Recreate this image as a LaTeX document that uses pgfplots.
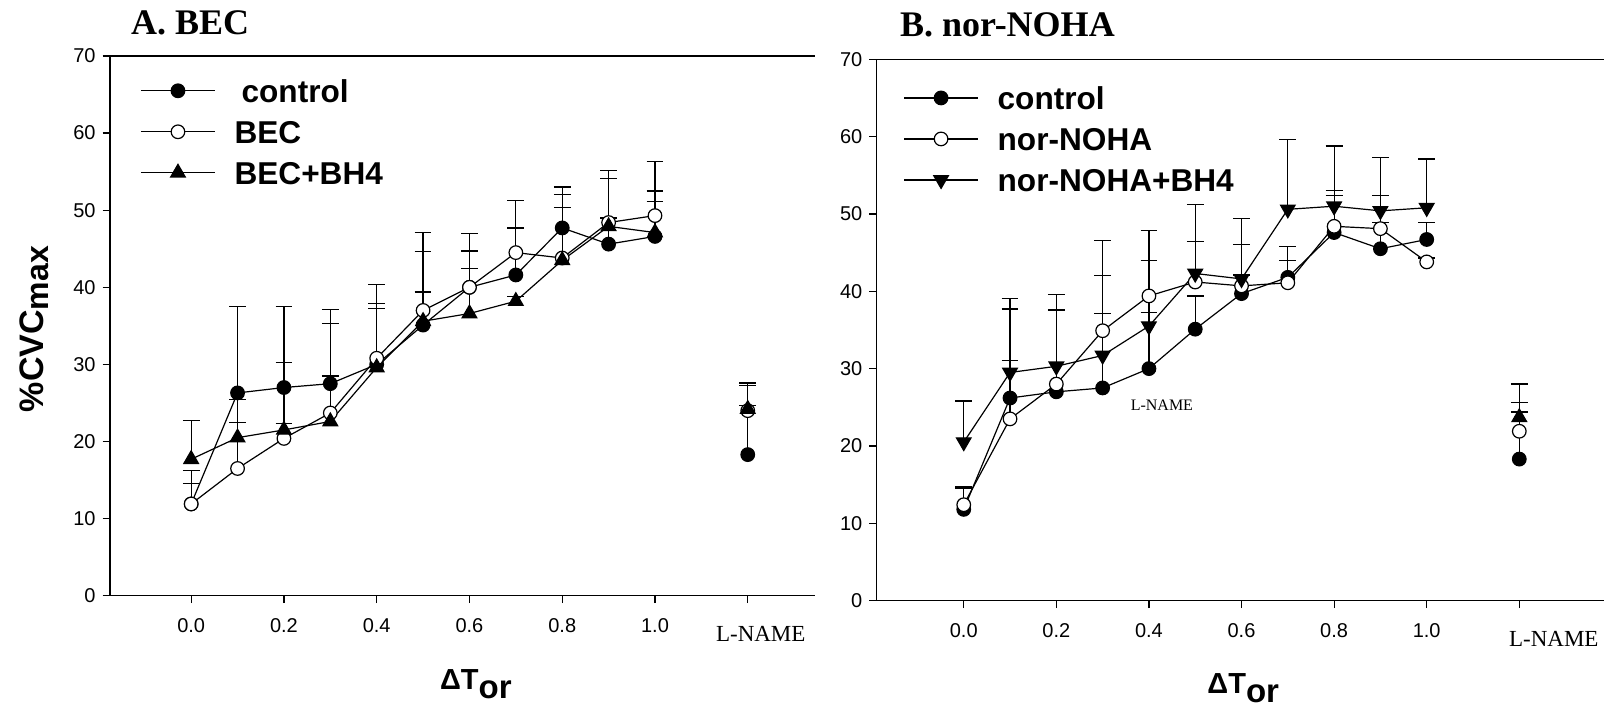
\documentclass[border=0pt]{standalone}
\usepackage{pgfplots}
\pgfplotsset{compat=1.18}
\usepackage{pgfplotstable}
\usepackage{fontspec}
\setmainfont{Liberation Sans}
\newfontfamily\serif{Liberation Serif}

% panel A: BEC
\pgfplotstableread{
x y e
0.0 11.9 2.7
0.1 26.3 11.2
0.2 27.0 10.5
0.3 27.5 9.6
0.4 30.0 10.4
0.5 35.1 12.0
0.6 40.0 7.0
0.7 41.6 9.7
0.8 47.7 5.3
0.9 45.6 9.6
1.0 46.6 9.7
}\Actrl
\pgfplotstableread{
x y e
0.0 11.9 4.3
0.1 16.5 8.9
0.2 20.4 9.8
0.3 23.7 11.6
0.4 30.8 7.1
0.5 37.0 7.6
0.6 40.0 4.7
0.7 44.5 3.2
0.8 43.8 8.2
0.9 48.4 5.7
1.0 49.3 3.2
}\Abec
\pgfplotstableread{
x y e
0.0 17.7 5.0
0.1 20.5 2.0
0.2 21.5 0.8
0.3 22.6 5.9
0.4 29.6 7.6
0.5 35.6 3.8
0.6 36.6 5.8
0.7 38.2 0.6
0.8 43.5 6.9
0.9 47.9 1.1
1.0 47.1 4.0
}\Abh
\pgfplotstableread{
x y e
1.2 18.3 9.3
}\ActrlL
\pgfplotstableread{
x y e
1.2 24.0 3.3
}\AbecL
\pgfplotstableread{
x y e
1.2 24.2 0.5
}\AbhL

% panel B: nor-NOHA
\pgfplotstableread{
x y e
0.0 11.8 2.9
0.1 26.2 11.5
0.2 27.0 10.6
0.3 27.5 9.6
0.4 30.0 7.3
0.5 35.1 4.3
0.6 39.7 2.4
0.7 41.8 4.0
0.8 47.6 4.8
0.9 45.5 3.4
1.0 46.7 2.2
}\Bctrl
\pgfplotstableread{
x y e
0.0 12.4 2.1
0.1 23.5 7.6
0.2 28.0 9.5
0.3 34.9 11.7
0.4 39.4 8.5
0.5 41.2 5.2
0.6 40.7 5.3
0.7 41.1 2.9
0.8 48.4 4.6
0.9 48.1 4.3
1.0 43.8 0.5
}\Bnoha
\pgfplotstableread{
x y e
0.0 20.5 5.3
0.1 29.5 9.6
0.2 30.3 9.3
0.3 31.7 10.3
0.4 35.5 8.5
0.5 42.3 8.9
0.6 41.6 7.8
0.7 50.6 9.0
0.8 51.0 7.8
0.9 50.4 6.9
1.0 50.8 6.3
}\Bbh
\pgfplotstableread{
x y e
1.2 18.3 9.7
}\BctrlL
\pgfplotstableread{
x y e
1.2 21.9 3.7
}\BnohaL
\pgfplotstableread{
x y e
1.2 23.7 0.7
}\BbhL

\pgfplotsset{
  panel/.style={
    scale only axis,
    axis x line=box, axis y line=left,
    axis line style={-, line width=0.7pt},
    tick align=outside, major tick length=3.7pt,
    xtick pos=bottom, ytick pos=left,
    tick style={line width=0.6pt, black},
    ymin=0, ymax=70, ytick={0,10,...,70},
    xtick={0,0.2,0.4,0.6,0.8,1.0,1.2},
    ticklabel style={font=\fontsize{10}{12}\selectfont},
    xticklabel style={yshift=-4pt},
    /pgf/number format/assume math mode=true,
    every axis title shift=0pt,
    title style={anchor=base west, font=\serif\bfseries\fontsize{18}{20}\selectfont},
    xlabel style={anchor=base, font=\bfseries\fontsize{14.5}{16}\selectfont},
    ylabel style={anchor=base, rotate=0, font=\bfseries\fontsize{17}{20}\selectfont},
    legend style={draw=none, fill=none, anchor=north west,
      font=\bfseries\fontsize{15.8}{18}\selectfont,
      row sep=9pt, column sep=9.5pt,
      nodes={inner sep=0pt, text height=11.5pt, text depth=0pt}, cells={anchor=west}},
    legend image code/.code={\draw[mark repeat=2,mark phase=2] plot coordinates {(0pt,0pt)(18.5pt,0pt)(37pt,0pt)};},
    every axis plot/.append style={black, line width=0.6pt},
    error bars/error bar style={line width=0.6pt},
    error bars/error mark options={rotate=90, mark size=4.2pt, line width=0.6pt},
  },
  eb/.style={error bars/y dir=plus, error bars/y explicit},
}

\newcommand{\lname}[1]{\serif\fontsize{11.5}{13}\selectfont\hspace*{#1}\rule{0pt}{11.7pt}L-NAME}
\newcommand{\dtor}{ΔT\raisebox{-4.5pt}{\fontsize{16.5}{18}\selectfont or}}

\begin{document}
\begin{tikzpicture}
\path[use as bounding box] (0,0) rectangle (802pt,353.5pt);

\begin{axis}[panel,
  at={(55pt,55.65pt)}, anchor=south west,
  width=352.5pt, height=269.85pt,
  xmin=-0.175, xmax=1.345,
  xticklabels={0.0,0.2,0.4,0.6,0.8,1.0,{\lname{13pt}}},
  title={A. BEC},
  title style={at={(axis description cs:0.02,1.0395)}},
  xlabel={\dtor},
  xlabel style={at={(axis description cs:0.519,-0.1747)}},
  ylabel={\%CVC\raisebox{-2.5pt}{\fontsize{16}{18}\selectfont max}},
  ylabel style={at={(axis description cs:-0.0946,0.494)}},
  legend style={at={(axis description cs:0.034,0.965)}},
]
\addplot[mark=*, mark size=3.4pt, eb] table[x=x, y=y, y error=e] {\Actrl};
\addplot[mark=*, mark size=3.4pt, mark options={fill=white}, eb] table[x=x, y=y, y error=e] {\Abec};
\addplot[mark=triangle*, mark size=4.2pt, eb] table[x=x, y=y, y error=e] {\Abh};
\addplot[only marks, mark=*, mark size=3.4pt, eb, forget plot] table[x=x, y=y, y error=e] {\ActrlL};
\addplot[only marks, mark=*, mark size=3.4pt, mark options={fill=white}, eb, forget plot] table[x=x, y=y, y error=e] {\AbecL};
\addplot[only marks, mark=triangle*, mark size=4.2pt, eb, forget plot] table[x=x, y=y, y error=e] {\AbhL};
\legend{\hspace*{3.5pt}control, BEC, BEC+BH4}
\end{axis}

\begin{axis}[panel,
  at={(438.35pt,53.2pt)}, anchor=south west,
  width=363.65pt, height=270.65pt,
  xmin=-0.188, xmax=1.383,
  xticklabels={0.0,0.2,0.4,0.6,0.8,1.0,{\lname{34.5pt}}},
  title={B. nor-NOHA},
  title style={at={(axis description cs:0.0224,1.043)}},
  xlabel={\dtor},
  xlabel style={at={(axis description cs:0.504,-0.171)}},
  legend style={at={(axis description cs:0.028,0.958)}},
]
\addplot[mark=*, mark size=3.4pt, eb] table[x=x, y=y, y error=e] {\Bctrl};
\addplot[mark=*, mark size=3.4pt, mark options={fill=white}, eb] table[x=x, y=y, y error=e] {\Bnoha};
\addplot[mark=triangle*, mark size=4.2pt, mark options={rotate=180}, eb] table[x=x, y=y, y error=e] {\Bbh};
\addplot[only marks, mark=*, mark size=3.4pt, eb, forget plot] table[x=x, y=y, y error=e] {\BctrlL};
\addplot[only marks, mark=*, mark size=3.4pt, mark options={fill=white}, eb, forget plot] table[x=x, y=y, y error=e] {\BnohaL};
\addplot[only marks, mark=triangle*, mark size=4.2pt, eb, forget plot] table[x=x, y=y, y error=e] {\BbhL};
\node[font=\serif\fontsize{8}{10}\selectfont] at (axis cs:0.428,25.27) {L-NAME};
\legend{control, nor-NOHA, nor-NOHA+BH4}
\end{axis}
\end{tikzpicture}
\end{document}
